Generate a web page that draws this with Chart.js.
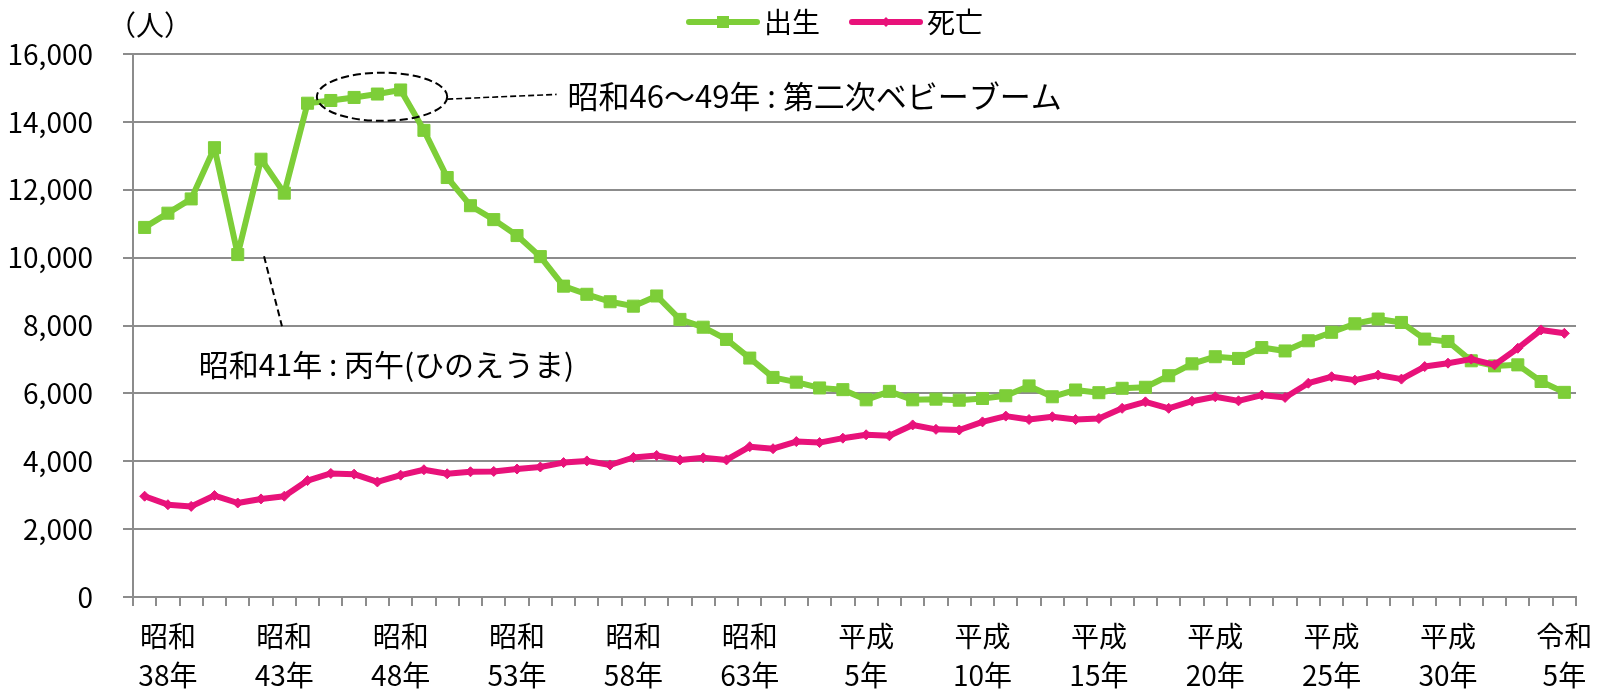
<!DOCTYPE html>
<html lang="ja">
<head>
<meta charset="UTF-8">
<title>出生・死亡数の推移</title>
<script src="https://cdn.jsdelivr.net/npm/chart.js"></script>
<style>
  body { margin: 0; background: #fff; }
  #wrap { width: 1611px; height: 700px; }
</style>
</head>
<body>
<div id="wrap"><canvas id="chart"></canvas></div>
<script>
// 年次: 昭和37年(1962) 〜 令和5年(2023)
const eras = [['昭和', 37, 63], ['平成', 1, 30], ['令和', 1, 5]];
const years = [];
eras.forEach(([name, from, to]) => {
    for (let n = from; n <= to; n++) years.push([name, n + '年']);
});

// 出生数（人）
const births = [
    10890, 11310, 11730, 13240, 10090, 12900, 11900, 14550, 14630, 14720,
    14820, 14940, 13750, 12360, 11530, 11120, 10650, 10030, 9160, 8920,
    8700, 8570, 8870, 8180, 7950, 7590, 7040, 6470, 6330, 6160,
    6110, 5810, 6060, 5810, 5830, 5800, 5850, 5930, 6220, 5900,
    6100, 6020, 6150, 6180, 6520, 6870, 7080, 7030, 7350, 7250,
    7550, 7800, 8050, 8190, 8090, 7600, 7530, 6960, 6810, 6840,
    6350, 6030
];

// 死亡数（人）
const deaths = [
    2970, 2720, 2670, 2990, 2770, 2890, 2970, 3430, 3640, 3620,
    3390, 3590, 3750, 3630, 3690, 3700, 3770, 3830, 3960, 4010,
    3890, 4110, 4170, 4040, 4100, 4040, 4430, 4370, 4580, 4550,
    4680, 4780, 4750, 5070, 4940, 4920, 5160, 5330, 5230, 5310,
    5230, 5260, 5560, 5750, 5560, 5770, 5900, 5780, 5950, 5880,
    6300, 6490, 6390, 6540, 6420, 6790, 6890, 7010, 6840, 7330,
    7870, 7770
];

const yMax = 16000;
const yStep = 2000;
const labelFirst = 1;   // 昭和38年から5年おきに目盛ラベル
const labelEvery = 5;

const GREEN = '#7DCE38';
const PINK = '#E8127A';
const GRID = '#8C8C8C';
const FONT = "'Noto Sans CJK JP', 'Noto Sans', sans-serif";

// 凡例（グラフ上部）
const legendPlugin = {
    id: 'topLegend',
    afterDraw(chart) {
        const ctx = chart.ctx;
        const items = [
            { text: '出生', color: GREEN, style: 'rect' },
            { text: '死亡', color: PINK, style: 'diamond' }
        ];
        let x = 689;
        const y = 22;
        ctx.save();
        ctx.font = '28px ' + FONT;
        ctx.textBaseline = 'middle';
        items.forEach(item => {
            ctx.strokeStyle = item.color;
            ctx.lineWidth = 6;
            ctx.lineCap = 'round';
            ctx.beginPath();
            ctx.moveTo(x, y);
            ctx.lineTo(x + 68, y);
            ctx.stroke();
            ctx.fillStyle = item.color;
            ctx.beginPath();
            if (item.style === 'rect') ctx.rect(x + 34 - 6, y - 6, 12, 12);
            else { ctx.moveTo(x + 34, y - 5); ctx.lineTo(x + 39, y); ctx.lineTo(x + 34, y + 5); ctx.lineTo(x + 29, y); }
            ctx.fill();
            ctx.fillStyle = '#000';
            ctx.fillText(item.text, x + 75, y);
            x += 75 + ctx.measureText(item.text).width + 32;
        });
        // 単位
        ctx.fillText('（人）', 108, 25);
        ctx.restore();
    }
};

// 注記（楕円・引出線・説明文）
const notePlugin = {
    id: 'notes',
    afterDraw(chart) {
        const ctx = chart.ctx;
        const xs = chart.scales.x, ys = chart.scales.y;
        ctx.save();
        ctx.strokeStyle = '#000';
        // 第二次ベビーブーム
        const cx = xs.getPixelForValue(10.2), cy = ys.getPixelForValue(14740);
        const rx = xs.getPixelForValue(13.0) - cx;
        const ry = ys.getPixelForValue(14000) - ys.getPixelForValue(14710);
        ctx.lineWidth = 2;
        ctx.setLineDash([8, 4]);
        ctx.beginPath();
        ctx.ellipse(cx, cy, rx, ry, 0, 0, Math.PI * 2);
        ctx.stroke();
        ctx.lineWidth = 1.6;
        ctx.setLineDash([6, 3]);
        ctx.beginPath();
        ctx.moveTo(cx + rx, ys.getPixelForValue(14670));
        ctx.lineTo(xs.getPixelForValue(17.7), ys.getPixelForValue(14810));
        ctx.stroke();
        // 丙午
        ctx.lineWidth = 2;
        ctx.setLineDash([7, 4]);
        ctx.beginPath();
        ctx.moveTo(xs.getPixelForValue(5.13), ys.getPixelForValue(10040));
        ctx.lineTo(xs.getPixelForValue(5.9), ys.getPixelForValue(7980));
        ctx.stroke();
        ctx.setLineDash([]);
        ctx.fillStyle = '#000';
        ctx.textBaseline = 'middle';
        ctx.font = '31px ' + FONT;
        ctx.fillText('昭和46〜49年 : 第二次ベビーブーム', xs.getPixelForValue(18.17), ys.getPixelForValue(14750));
        ctx.font = '30px ' + FONT;
        ctx.fillText('昭和41年 : 丙午(ひのえうま)', xs.getPixelForValue(2.33), ys.getPixelForValue(6860));
        ctx.restore();
    }
};

new Chart(document.getElementById('chart'), {
    type: 'line',
    data: {
        labels: years,
        datasets: [
            {
                label: '出生',
                data: births,
                borderColor: GREEN,
                backgroundColor: GREEN,
                borderWidth: 6,
                borderJoinStyle: 'round',
                borderCapStyle: 'round',
                pointStyle: 'rect',
                pointRadius: 8.5,
                pointBorderWidth: 1,
                pointBorderColor: GREEN,
                pointBackgroundColor: GREEN,
                tension: 0,
                order: 2
            },
            {
                label: '死亡',
                data: deaths,
                borderColor: PINK,
                backgroundColor: PINK,
                borderWidth: 6,
                borderJoinStyle: 'round',
                borderCapStyle: 'round',
                pointStyle: 'rectRot',
                pointRadius: 5,
                pointBorderWidth: 1,
                pointBorderColor: PINK,
                pointBackgroundColor: PINK,
                tension: 0,
                order: 1
            }
        ]
    },
    options: {
        responsive: true,
        maintainAspectRatio: false,
        animation: false,
        layout: { padding: { top: 54, right: 35, bottom: 0, left: 0 } },
        plugins: {
            legend: { display: false },
            tooltip: { enabled: false }
        },
        scales: {
            x: {
                offset: true,
                afterFit: s => { s.height = 103; },
                grid: {
                    offset: true,
                    drawOnChartArea: true,
                    color: c => (c.index === years.length ? GRID : 'rgba(0,0,0,0)'),
                    tickColor: GRID,
                    lineWidth: 2,
                    tickLength: 9
                },
                border: { color: GRID, width: 2 },
                ticks: {
                    autoSkip: false,
                    maxRotation: 0,
                    minRotation: 0,
                    padding: 10,
                    color: '#000',
                    font: { family: FONT, size: 28, lineHeight: 1.42 },
                    callback: function (v, i) {
                        return (i - labelFirst) % labelEvery === 0 ? this.getLabelForValue(v) : '';
                    }
                }
            },
            y: {
                min: 0,
                max: yMax,
                afterFit: s => { s.width = 133; },
                grid: { color: GRID, lineWidth: 2, tickLength: 10 },
                border: { color: GRID, width: 2 },
                ticks: {
                    stepSize: yStep,
                    padding: 30,
                    color: '#000',
                    font: { family: FONT, size: 28 },
                    callback: v => v.toLocaleString('en-US')
                }
            }
        }
    },
    plugins: [legendPlugin, notePlugin]
});
</script>
</body>
</html>
